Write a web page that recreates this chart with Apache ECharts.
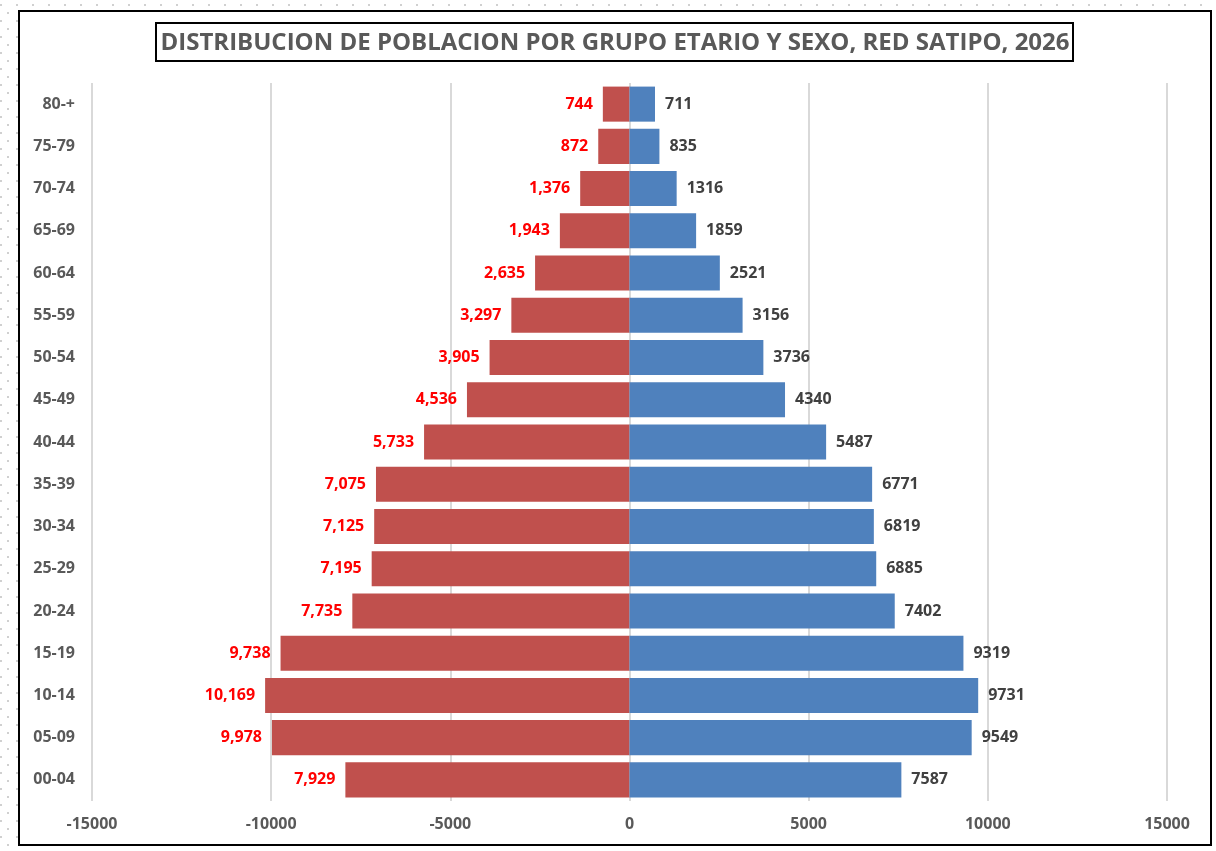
<!DOCTYPE html>
<html>
<head>
<meta charset="utf-8">
<script src="https://cdn.jsdelivr.net/npm/echarts@6/dist/echarts.min.js"></script>
<style>
    html, body {
        margin: 0;
        padding: 0;
        width: 1216px;
        height: 851px;
        background-color: #fff;
        background-image:
            radial-gradient(circle, #d0d0d0 0.8px, transparent 1px),
            radial-gradient(circle, #d0d0d0 0.8px, transparent 1px);
        background-size: 16px 16px, 16px 16px;
        background-position: -7px -3px, 0px 5px;
    }
    #chart { width: 1216px; height: 851px; }
</style>
</head>
<body>
<div id="chart"></div>
<script>
const ageGroups = ['00-04', '05-09', '10-14', '15-19', '20-24', '25-29', '30-34', '35-39',
    '40-44', '45-49', '50-54', '55-59', '60-64', '65-69', '70-74', '75-79', '80-+'];
const leftValues = [7929, 9978, 10169, 9738, 7735, 7195, 7125, 7075,
    5733, 4536, 3905, 3297, 2635, 1943, 1376, 872, 744];
const rightValues = [7587, 9549, 9731, 9319, 7402, 6885, 6819, 6771,
    5487, 4340, 3736, 3156, 2521, 1859, 1316, 835, 711];
const xTicks = [-15000, -10000, -5000, 0, 5000, 10000, 15000];

const FONT = 'Open Sans';

const chart = echarts.init(document.getElementById('chart'), null, { renderer: 'canvas' });

const option = {
    animation: false,
    backgroundColor: 'transparent',
    graphic: [
        {
            type: 'rect',
            z: -10,
            shape: { x: 19, y: 11, width: 1192, height: 834 },
            style: { fill: '#fff', stroke: '#000', lineWidth: 2 },
        },
        {
            type: 'rect',
            z: 10,
            shape: { x: 156, y: 23, width: 917, height: 38 },
            style: { fill: '#fff', stroke: '#000', lineWidth: 2 },
        },
        {
            type: 'text',
            z: 11,
            x: 615,
            y: 43,
            style: {
                text: 'DISTRIBUCION DE POBLACION POR GRUPO ETARIO Y SEXO, RED SATIPO, 2026',
                font: 'bold 24px "' + FONT + '"',
                fill: '#595959',
                align: 'center',
                verticalAlign: 'middle',
            },
        },
    ],
    grid: {
        left: 92,
        right: 49,
        top: 83,
        bottom: 50,
        containLabel: false,
    },
    xAxis: {
        type: 'value',
        min: -15000,
        max: 15000,
        interval: 5000,
        axisLine: { show: false },
        axisTick: { show: false },
        splitLine: {
            show: true,
            lineStyle: { color: '#d9d9d9', width: 2 },
        },
        axisLabel: {
            fontFamily: FONT,
            fontSize: 16,
            fontWeight: 'bold',
            color: '#595959',
            margin: 15,
            customValues: xTicks,
            formatter: (v) => String(v),
        },
    },
    yAxis: {
        type: 'category',
        data: ageGroups,
        axisLine: { show: false },
        axisTick: { show: false },
        splitLine: { show: false },
        axisLabel: {
            fontFamily: FONT,
            fontSize: 16,
            fontWeight: 'bold',
            color: '#595959',
            margin: 17,
        },
    },
    series: [
        {
            name: 'Mujeres',
            type: 'bar',
            stack: 'pyramid',
            barCategoryGap: '17%',
            data: leftValues.map((v) => -v),
            itemStyle: { color: '#C0504D' },
            label: {
                show: true,
                position: 'left',
                distance: 10,
                fontFamily: FONT,
                fontSize: 16,
                fontWeight: 'bold',
                color: '#FF0000',
                formatter: (p) => Math.abs(p.value).toLocaleString('en-US'),
            },
        },
        {
            name: 'Hombres',
            type: 'bar',
            stack: 'pyramid',
            barCategoryGap: '17%',
            data: rightValues,
            itemStyle: { color: '#4F81BD' },
            label: {
                show: true,
                position: 'right',
                distance: 10,
                fontFamily: FONT,
                fontSize: 16,
                fontWeight: 'bold',
                color: '#404040',
                formatter: (p) => String(p.value),
            },
        },
    ],
};

chart.setOption(option);
</script>
</body>
</html>
